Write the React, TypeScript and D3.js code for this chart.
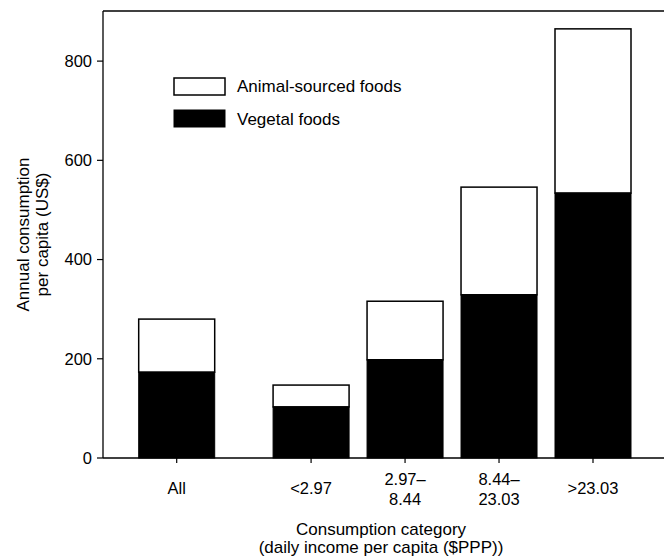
import React from "react";
import * as d3 from "d3";

const categories = ["All", "<2.97", "2.97–8.44", "8.44–23.03", ">23.03"];
const tickLines = [["All"], ["<2.97"], ["2.97–", "8.44"], ["8.44–", "23.03"], [">23.03"]];
const vegetal = [173, 103, 198, 329, 534];
const animal = [107, 44, 118, 217, 331];
const yTicks = [0, 200, 400, 600, 800];
const seriesNames = ["Animal-sourced foods", "Vegetal foods"];

const W = 664;
const H = 560;
const left = 103;
const right = 664;
const top = 11;
const bottom = 458;
const slots = [0, 1.43, 2.43, 3.43, 4.43];
const barW = 76;
const font = "'Liberation Sans', Arial, Helvetica, sans-serif";
const tickFs = 16.5;
const titleFs = 17;

export default function App() {
  const y = d3.scaleLinear().domain([0, 900]).range([bottom, top + 0.5]);
  const x = d3.scaleLinear().domain([0, 4.43]).range([176.7, 593]);
  const stacked = categories.map((c, i) => ({ c, veg: vegetal[i], tot: vegetal[i] + animal[i], cx: x(slots[i]) }));

  return (
    <svg width={W} height={H} style={{ position: "absolute", left: 0, top: 0, background: "#fff" }} fontFamily={font}>
      <rect x={0} y={0} width={W} height={H} fill="#fff" />
      {stacked.map((d) => (
        <g key={d.c}>
          <rect x={d.cx - barW / 2} y={y(d.tot)} width={barW} height={y(d.veg) - y(d.tot)} fill="#fff" stroke="#000" strokeWidth={1.5} />
          <rect x={d.cx - barW / 2} y={y(d.veg)} width={barW} height={bottom - y(d.veg)} fill="#000" stroke="#000" strokeWidth={1} />
        </g>
      ))}
      <line x1={left} x2={right} y1={top} y2={top} stroke="#000" strokeWidth={1.3} />
      <line x1={left} x2={right} y1={bottom} y2={bottom} stroke="#000" strokeWidth={1.3} />
      <line x1={left} x2={left} y1={top} y2={bottom} stroke="#000" strokeWidth={1.3} />
      {yTicks.map((t) => (
        <g key={t}>
          <line x1={left - 6} x2={left} y1={y(t)} y2={y(t)} stroke="#000" strokeWidth={1.2} />
          <text x={92} y={y(t)} dy="0.35em" textAnchor="end" fontSize={tickFs} fill="#000">{t}</text>
        </g>
      ))}
      {stacked.map((d, i) => (
        <g key={d.c}>
          <line x1={d.cx} x2={d.cx} y1={bottom} y2={bottom + 5} stroke="#000" strokeWidth={1.2} />
          {tickLines[i].length === 1 ? (
            <text x={d.cx} y={494} textAnchor="middle" fontSize={tickFs} fill="#000">{tickLines[i][0]}</text>
          ) : (
            tickLines[i].map((l, j) => (
              <text key={j} x={d.cx} y={485 + j * 20} textAnchor="middle" fontSize={tickFs} fill="#000">{l}</text>
            ))
          )}
        </g>
      ))}
      <text x={381} y={535} textAnchor="middle" fontSize={titleFs} fill="#000">Consumption category</text>
      <text x={381} y={553} textAnchor="middle" fontSize={titleFs} fill="#000">(daily income per capita ($PPP))</text>
      <g transform={`translate(0, ${(top + bottom) / 2}) rotate(-90)`}>
        <text x={0} y={29} textAnchor="middle" fontSize={titleFs} fill="#000">Annual consumption</text>
        <text x={0} y={48} textAnchor="middle" fontSize={titleFs} fill="#000">per capita (US$)</text>
      </g>
      <rect x={174} y={78} width={51} height={17} fill="#fff" stroke="#000" strokeWidth={1.5} />
      <text x={237} y={86.5} dy="0.35em" fontSize={titleFs} fill="#000">{seriesNames[0]}</text>
      <rect x={174} y={110} width={51} height={17} fill="#000" stroke="#000" strokeWidth={1} />
      <text x={237} y={119} dy="0.35em" fontSize={titleFs} fill="#000">{seriesNames[1]}</text>
    </svg>
  );
}
